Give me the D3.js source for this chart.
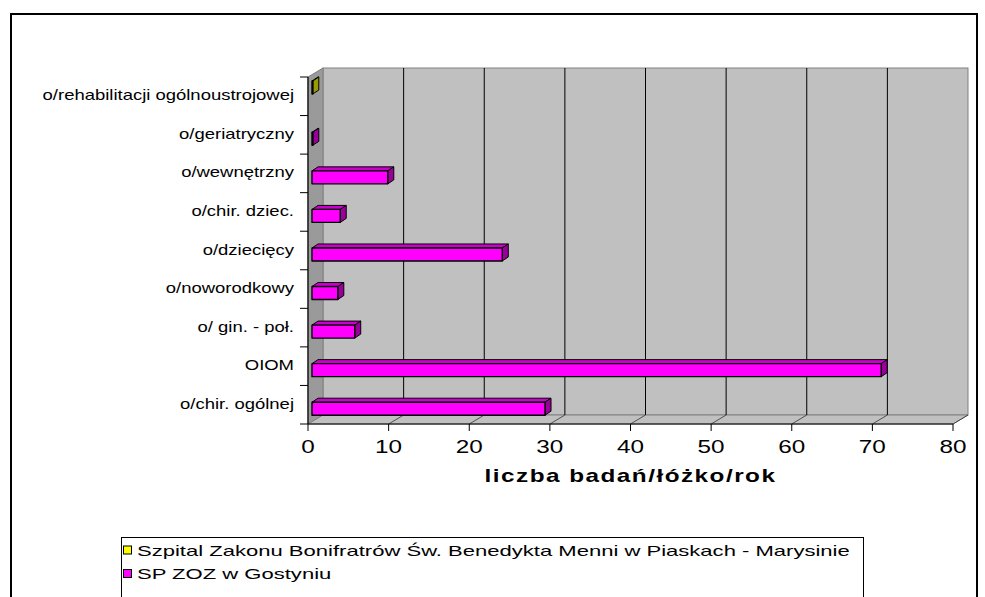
<!DOCTYPE html>
<html>
<head>
<meta charset="utf-8">
<script src="https://cdn.jsdelivr.net/npm/d3@7"></script>
<style>
  html, body { margin: 0; padding: 0; background: #fff; }
  svg { display: block; }
  text { font-family: "Liberation Sans", Arial, sans-serif; fill: #000; }
</style>
</head>
<body>
<svg id="chart" width="985" height="597"></svg>
<script>
// ---- data (bottom to top, as in the picture) ----
const categories = [
  "o/chir. ogólnej",
  "OIOM",
  "o/ gin. - poł.",
  "o/noworodkowy",
  "o/dziecięcy",
  "o/chir. dziec.",
  "o/wewnętrzny",
  "o/geriatryczny",
  "o/rehabilitacji ogólnoustrojowej"
];
const seriesNames = [
  "Szpital Zakonu Bonifratrów Św. Benedykta Menni w Piaskach - Marysinie",
  "SP ZOZ w Gostyniu"
];
const szpitalValues = [null, null, null, null, null, null, null, null, 0.1];
const spzozValues   = [28.9, 70.6, 5.3, 3.2, 23.6, 3.5, 9.4, 0.1, null];
const xTickValues = [0, 10, 20, 30, 40, 50, 60, 70, 80];
const xTitle = "liczba badań/łóżko/rok";

// ---- styles ----
const palette = [
  { front: "#FFFF00", top: "#CCCC00", end: "#999900" },
  { front: "#FF00FF", top: "#CC00CC", end: "#990099" }
];
const seriesValues = [szpitalValues, spzozValues];

const svg = d3.select("#chart");

// outer frame
svg.append("rect").attr("x", 11).attr("y", 14).attr("width", 966).attr("height", 600)
  .attr("fill", "#fff").attr("stroke", "#000").attr("stroke-width", 2);

const x = d3.scaleLinear().domain([0, 80]).range([308, 953]);
const y = d3.scaleBand().domain(categories).range([424, 77]).padding(0);
const sub = d3.scaleBand().domain(d3.range(seriesNames.length)).range([4, 29.5]);

const DX = 15, DY = -9;       // wall depth
const bdx = 6, bdy = -4;      // bar depth
const bx = 4;                 // bar front plane shift
const barH = 13;

const y0 = 424, yTop = 77;
const xL = x(0), xR = x(80);

// back wall
svg.append("rect")
  .attr("x", xL + DX).attr("y", yTop + DY)
  .attr("width", xR - xL).attr("height", y0 - yTop)
  .attr("fill", "#C0C0C0").attr("stroke", "#808080").attr("stroke-width", 1);

// side wall
svg.append("polygon")
  .attr("points", [[xL, yTop], [xL + DX, yTop + DY], [xL + DX, y0 + DY], [xL, y0]].map(p => p.join(",")).join(" "))
  .attr("fill", "#9A9A9A").attr("stroke", "#808080").attr("stroke-width", 1);

// floor
svg.append("polygon")
  .attr("points", [[xL, y0], [xR, y0], [xR + DX, y0 + DY], [xL + DX, y0 + DY]].map(p => p.join(",")).join(" "))
  .attr("fill", "#C0C0C0").attr("stroke", "#808080").attr("stroke-width", 1);

// gridlines on back wall + floor diagonals
const inner = xTickValues.filter(v => v > 0 && v < 80);
svg.append("g").selectAll("line").data(inner).join("line")
  .attr("x1", d => x(d) + DX).attr("x2", d => x(d) + DX)
  .attr("y1", yTop + DY).attr("y2", y0 + DY)
  .attr("stroke", "#000").attr("stroke-width", 1);
svg.append("g").selectAll("line").data(xTickValues.filter(v => v > 0)).join("line")
  .attr("x1", d => x(d)).attr("y1", y0)
  .attr("x2", d => x(d) + DX).attr("y2", y0 + DY)
  .attr("stroke", "#333").attr("stroke-width", 0.8);

// bars
const barsG = svg.append("g");
const catOrder = categories.map((c, i) => i).reverse(); // draw top first
catOrder.forEach(ci => {
  seriesValues.forEach((vals, si) => {
    const v = vals[ci];
    if (v === null || v === undefined) return;
    const c = palette[si];
    const x0 = x(0) + bx, x1 = x(v) + bx;
    const t = y(categories[ci]) + sub(si);
    const b = t + barH;
    const g = barsG.append("g").attr("stroke", "#000").attr("stroke-linejoin", "round");
    g.append("polygon")
      .attr("points", [[x0, t], [x1, t], [x1 + bdx, t + bdy], [x0 + bdx, t + bdy]].map(p => p.join(",")).join(" "))
      .attr("fill", c.top).attr("stroke-width", 1);
    g.append("polygon")
      .attr("points", [[x1, t], [x1 + bdx, t + bdy], [x1 + bdx, b + bdy], [x1, b]].map(p => p.join(",")).join(" "))
      .attr("fill", c.end).attr("stroke-width", 1);
    g.append("rect")
      .attr("x", x0).attr("y", t).attr("width", Math.max(0, x1 - x0)).attr("height", barH)
      .attr("fill", c.front).attr("stroke-width", 1.4);
  });
});

// x axis line + ticks
svg.append("line").attr("x1", xL).attr("x2", xR).attr("y1", y0).attr("y2", y0)
  .attr("stroke", "#000").attr("stroke-width", 1.2);
svg.append("g").selectAll("line").data(xTickValues).join("line")
  .attr("x1", d => x(d)).attr("x2", d => x(d)).attr("y1", y0).attr("y2", y0 + 7)
  .attr("stroke", "#000").attr("stroke-width", 1);
const SX = 1.35;
svg.append("g").selectAll("text").data(xTickValues).join("text")
  .attr("transform", d => `translate(${x(d)},453) scale(${SX},1)`)
  .attr("text-anchor", "middle").attr("font-size", 18)
  .text(d => d);

// x title
svg.append("text")
  .attr("transform", `translate(${(xL + xR) / 2},482) scale(${SX},1)`)
  .attr("text-anchor", "middle").attr("font-size", 18).attr("font-weight", "bold")
  .attr("letter-spacing", 1.1)
  .text(xTitle);

// y axis line + ticks
svg.append("line").attr("x1", xL).attr("x2", xL).attr("y1", yTop).attr("y2", y0)
  .attr("stroke", "#000").attr("stroke-width", 1.2);
const bounds = categories.map(c => y(c)).concat([y0]);
svg.append("g").selectAll("line").data(bounds).join("line")
  .attr("x1", xL - 8).attr("x2", xL).attr("y1", d => d).attr("y2", d => d)
  .attr("stroke", "#000").attr("stroke-width", 1);
svg.append("g").selectAll("text").data(categories).join("text")
  .attr("transform", d => `translate(294,${y(d) + y.bandwidth() / 2 + 4}) scale(1.32,1)`)
  .attr("text-anchor", "end").attr("font-size", 14)
  .text(d => d);

// legend
const lg = svg.append("g");
lg.append("rect").attr("x", 121.5).attr("y", 537.5).attr("width", 742).attr("height", 70)
  .attr("fill", "#fff").attr("stroke", "#000").attr("stroke-width", 1);
seriesNames.forEach((name, i) => {
  const cy = 550 + i * 23.5;
  lg.append("rect").attr("x", 123.5).attr("y", cy - 4).attr("width", 8).attr("height", 8)
    .attr("fill", palette[i].front).attr("stroke", "#000").attr("stroke-width", 1);
  lg.append("text")
    .attr("transform", `translate(137,${cy + 5.5}) scale(1.47,1)`)
    .attr("font-size", 15)
    .text(name);
});
</script>
</body>
</html>
